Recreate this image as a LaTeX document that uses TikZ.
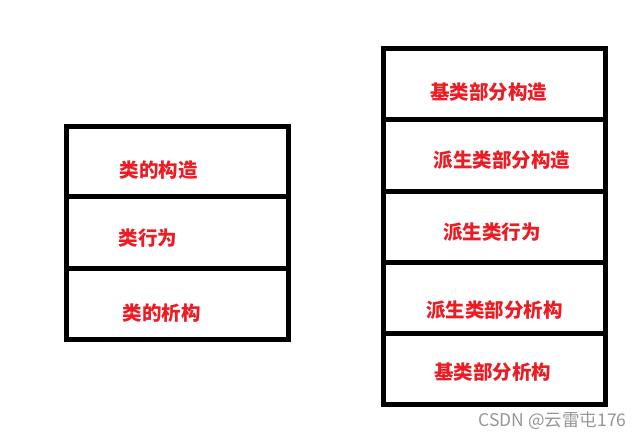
\documentclass[tikz,border=0pt]{standalone}
\usepackage{fontspec}
\newfontfamily\cjk{Noto Sans CJK SC}
\definecolor{lbl}{RGB}{236,28,36}
\definecolor{wm}{RGB}{150,150,150}
\begin{document}
\begin{tikzpicture}[x=1pt,y=-1pt,
  cell/.style={draw=black,line width=5pt,rectangle,inner sep=0pt,minimum width=221.5pt},
  lab/.style={anchor=west,inner sep=0pt,text=lbl,font=\cjk\bfseries\fontsize{19.5}{20}\selectfont}]
\useasboundingbox (0,0) rectangle (644,439);
% left stack
\node[cell,minimum height=70.7pt] (l1) at (177.25,161.35) {};
\node[cell,minimum height=71.3pt] (l2) at (177.25,232.35) {};
\node[cell,minimum height=71pt] (l3) at (177.25,303.5) {};
% right stack
\node[cell,minimum height=71pt] (r1) at (494.25,84) {};
\node[cell,minimum height=72pt] (r2) at (494.25,155.5) {};
\node[cell,minimum height=70.5pt] (r3) at (494.25,226.75) {};
\node[cell,minimum height=71.5pt] (r4) at (494.25,297.75) {};
\node[cell,minimum height=70.5pt] (r5) at (494.25,368.75) {};
% labels
\node[lab] (t1) at (119.3,170) {类的构造};
\node[lab] (t2) at (118.3,238) {类行为};
\node[lab] (t3) at (122.3,312.7) {类的析构};
\node[lab] (u1) at (430,91.7) {基类部分构造};
\node[lab] (u2) at (433.3,160) {派生类部分构造};
\node[lab] (u3) at (443,232) {派生类行为};
\node[lab] (u4) at (426,310) {派生类部分析构};
\node[lab] (u5) at (434,371.7) {基类部分析构};
\node[anchor=west,inner sep=0pt,text=wm,font=\cjk\fontsize{17.5}{18}\selectfont] (wmk) at (478.3,420.7) {CSDN @云雷屯176};
\end{tikzpicture}
\end{document}
